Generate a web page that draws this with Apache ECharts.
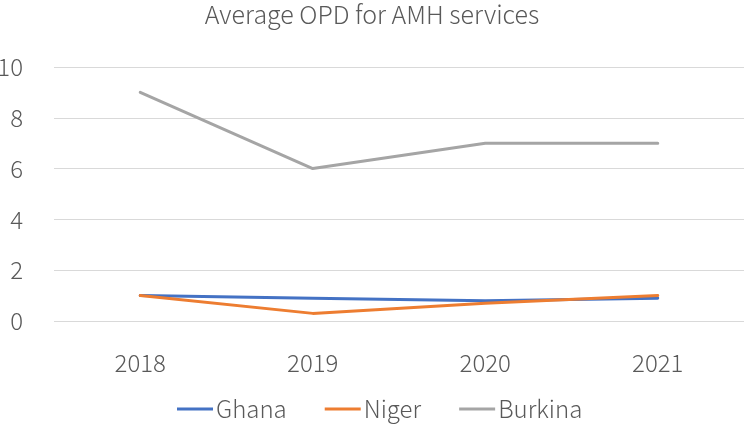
<!DOCTYPE html>
<html><head><meta charset="utf-8">
<script src="https://cdn.jsdelivr.net/npm/echarts@6/dist/echarts.min.js"></script>
<style>html,body{margin:0;padding:0;background:#fff}#c{width:744px;height:424px}</style>
</head><body><div id="c"></div>
<script>
const categories = ['2018', '2019', '2020', '2021'];
const ghana = [1.0, 0.9, 0.8, 0.9];
const niger = [1.0, 0.3, 0.7, 1.0];
const burkina = [9, 6, 7, 7];
const yTicks = { min: 0, max: 10, interval: 2 };

const font = '"Noto Sans CJK JP", "Noto Sans", sans-serif';
const chart = echarts.init(document.getElementById('c'));
const mk = (name, data, color) => ({
  name, type: 'line', data, symbol: 'none', smooth: false,
  lineStyle: { color, width: 3, cap: 'round' }, itemStyle: { color }
});
chart.setOption({
  animation: false,
  title: { text: 'Average OPD for AMH services', left: 'center', top: -3,
    textStyle: { fontFamily: font, fontWeight: 300, fontSize: 25, color: '#595959' } },
  legend: { bottom: 3, left: 177, padding: 0, itemWidth: 36, itemHeight: 3, itemGap: 38,
    icon: 'rect',
    textStyle: { fontFamily: font, fontWeight: 300, fontSize: 24, color: '#595959', padding: [0,0,0,-2] },
    data: ['Ghana', 'Niger', 'Burkina'] },
  grid: { left: 54, right: 0, top: 67, bottom: 103, containLabel: false, outerBoundsMode: 'none' },
  xAxis: { type: 'category', data: categories, boundaryGap: true,
    axisLine: { show: false }, axisTick: { show: false },
    axisLabel: { margin: 30, fontFamily: font, fontWeight: 300, fontSize: 24, color: '#595959' } },
  yAxis: { type: 'value', min: yTicks.min, max: yTicks.max, interval: yTicks.interval,
    axisLine: { show: false }, axisTick: { show: false },
    splitLine: { lineStyle: { color: '#d9d9d9', width: 1 } },
    axisLabel: { margin: 31, fontFamily: font, fontWeight: 300, fontSize: 24, color: '#595959' } },
  series: [ mk('Ghana', ghana, '#4472C4'), mk('Niger', niger, '#ED7D31'), mk('Burkina', burkina, '#A5A5A5') ]
});
</script></body></html>
